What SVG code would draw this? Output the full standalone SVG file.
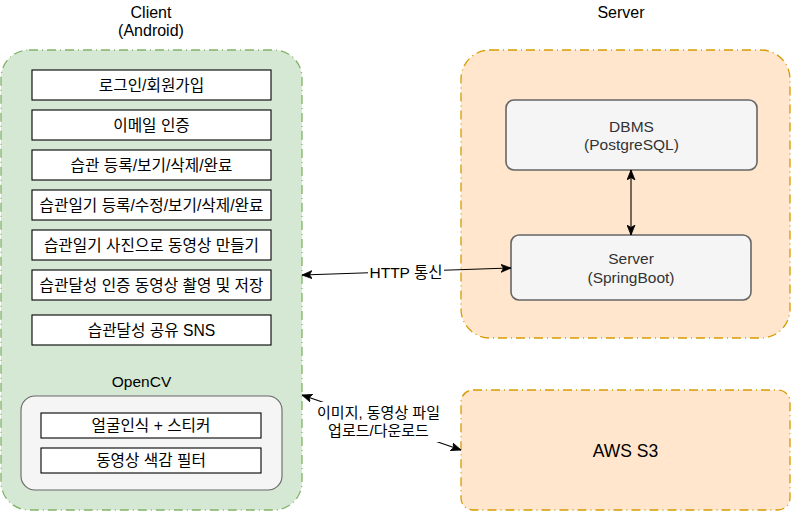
<svg xmlns="http://www.w3.org/2000/svg" width="792" height="512" viewBox="0 0 792 512">
<style>
text{font-family:"Liberation Sans","Noto Sans CJK KR",Arial,sans-serif;text-anchor:middle;fill:#000}
.grp-g{fill:#d5e8d4;stroke:#82b366;stroke-width:1.3;stroke-dasharray:9 4 1 4}
.grp-o{fill:#ffe6cc;stroke:#d79b00;stroke-width:1.3;stroke-dasharray:9 4 1 4}
.box{fill:#fff;stroke:#000;stroke-width:1.1}
.gray{fill:#f5f5f5;stroke:#666;stroke-width:1.6}
.t{font-size:15.7px}
.title{font-size:16px}
.gt{font-size:15.5px;fill:#333}
.edge{fill:none;stroke:#000;stroke-width:1.1}
</style>
<defs>
<marker id="ah" markerUnits="userSpaceOnUse" markerWidth="11" markerHeight="9" refX="10" refY="4.5" orient="auto-start-reverse" viewBox="0 0 11 9">
<path d="M0,0.5 L10,4.5 L0,8.5 L2.5,4.5 z" fill="#000" stroke="#000" stroke-width="0.8"/>
</marker>
</defs>

<g id="client">
<rect class="grp-g" x="1" y="50" width="301" height="460" rx="28"/>
<text class="title" x="151" y="17.5">Client</text>
<text class="title" x="151" y="35.5">(Android)</text>
</g>
<g id="login"><rect class="box" x="32" y="70" width="239" height="30"/><text class="t" x="151.5" y="90.5">로그인/회원가입</text></g>
<g id="email"><rect class="box" x="32" y="110" width="239" height="30"/><text class="t" x="151.5" y="130.5">이메일 인증</text></g>
<g id="habit"><rect class="box" x="32" y="150" width="239" height="30"/><text class="t" x="151.5" y="170.5">습관 등록/보기/삭제/완료</text></g>
<g id="diary"><rect class="box" x="32" y="190" width="239" height="30"/><text class="t" x="151.5" y="210.5">습관일기 등록/수정/보기/삭제/완료</text></g>
<g id="video"><rect class="box" x="32" y="230" width="239" height="30"/><text class="t" x="151.5" y="250.5">습관일기 사진으로 동영상 만들기</text></g>
<g id="record"><rect class="box" x="32" y="270" width="239" height="30"/><text class="t" x="151.5" y="290.5">습관달성 인증 동영상 촬영 및 저장</text></g>
<g id="sns"><rect class="box" x="32" y="315" width="239" height="30"/><text class="t" x="151.5" y="335.5">습관달성 공유 SNS</text></g>

<g id="opencv">
<text x="141.5" y="386.5" style="font-size:15.5px">OpenCV</text>
<rect class="gray" x="21" y="396" width="261" height="94" rx="14" style="stroke-width:1.1"/>
</g>
<g id="face"><rect class="box" x="41" y="413" width="220" height="25"/><text class="t" x="151" y="431">얼굴인식 + 스티커</text></g>
<g id="filter"><rect class="box" x="41" y="448" width="220" height="25"/><text class="t" x="151" y="466">동영상 색감 필터</text></g>

<g id="server-group">
<rect class="grp-o" x="461" y="50" width="329" height="288" rx="29"/>
<text class="title" x="621" y="17.5">Server</text>
</g>
<g id="dbms"><rect class="gray" x="506" y="100" width="251" height="70" rx="8"/><text class="gt" x="631.5" y="131.5">DBMS</text><text class="gt" x="631.5" y="150">(PostgreSQL)</text></g>
<g id="springboot"><rect class="gray" x="511" y="235" width="240" height="65" rx="8"/><text class="gt" x="631" y="264">Server</text><text class="gt" x="631" y="282.5">(SpringBoot)</text></g>

<g id="s3"><rect class="grp-o" x="461" y="390" width="329" height="120" rx="12"/><text x="625.5" y="457" style="font-size:17.5px">AWS S3</text></g>

<g id="connectors">
<line class="edge" x1="302" y1="275" x2="511" y2="268" marker-start="url(#ah)" marker-end="url(#ah)"/>
<line class="edge" x1="631" y1="170" x2="631" y2="235" marker-start="url(#ah)" marker-end="url(#ah)"/>
<rect x="368" y="262" width="76" height="19" fill="#fff"/>
<text x="406" y="277.5" style="font-size:15.5px">HTTP 통신</text>
<line class="edge" x1="302" y1="395" x2="461" y2="450" marker-start="url(#ah)" marker-end="url(#ah)"/>
<rect x="314" y="402" width="130" height="40" fill="#fff"/>
<text x="378.5" y="418" style="font-size:15px">이미지, 동영상 파일</text>
<text x="378.5" y="436" style="font-size:15px">업로드/다운로드</text>
</g>
</svg>
